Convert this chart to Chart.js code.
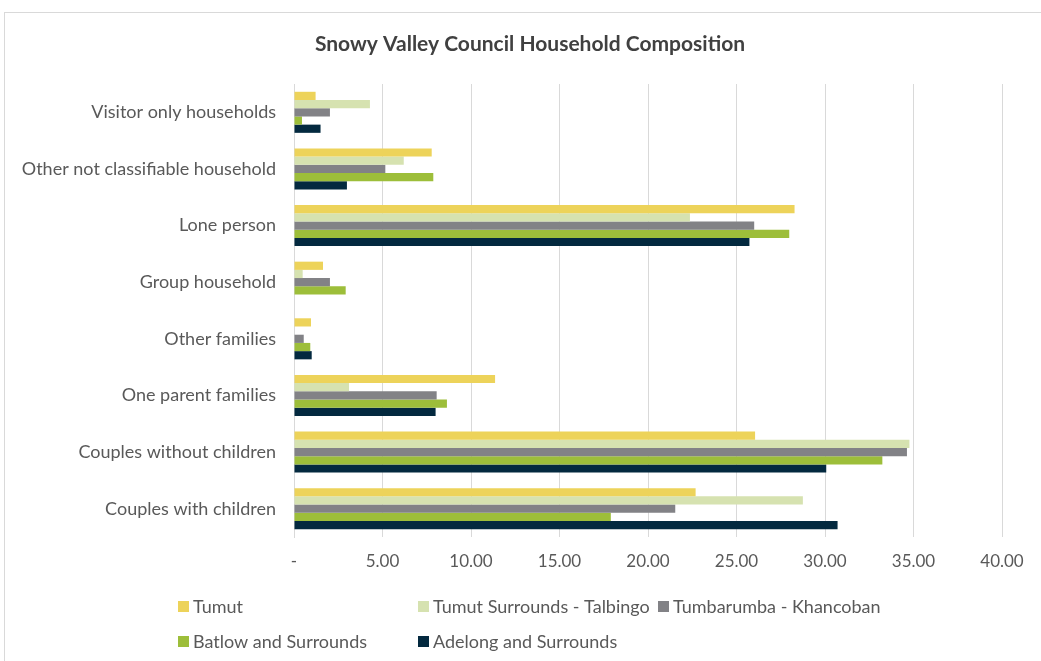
<!DOCTYPE html>
<html>
<head>
<meta charset="utf-8">
<script src="https://cdn.jsdelivr.net/npm/chart.js"></script>
<style>
  body { margin: 0; background: #fff; }
  #frame { position: absolute; left: 4px; top: 12px; width: 1100px; height: 700px; border: 1px solid #d9d9d9; }
  #householdChart { position: absolute; left: 0; top: 0; }
</style>
</head>
<body>
<div id="frame"></div>
<canvas id="householdChart" width="1041" height="661"></canvas>
<script>
// categories, top to bottom as shown
const categories = [
    'Visitor only households',
    'Other not classifiable household',
    'Lone person',
    'Group household',
    'Other families',
    'One parent families',
    'Couples without children',
    'Couples with children'
];

const tumut      = [1.22, 7.78, 28.28, 1.64, 0.96, 11.36, 26.05, 22.69];
const talbingo   = [4.29, 6.20, 22.37, 0.49, 0.00, 3.11, 34.77, 28.75];
const tumbarumba = [2.03, 5.16, 26.00, 2.03, 0.55, 8.06, 34.63, 21.54];
const batlow     = [0.45, 7.87, 27.98, 2.92, 0.92, 8.64, 33.24, 17.90];
const adelong    = [1.50, 2.99, 25.73, 0.00, 1.00, 8.00, 30.07, 30.71];

const xTickLabels = ['-', '5.00', '10.00', '15.00', '20.00', '25.00', '30.00', '35.00', '40.00'];

const chartTitle = 'Snowy Valley Council Household Composition';
const textColor = '#595959';
const font = 'Lato';

// legend laid out in columns like the original
const legendCols = [178, 418, 658];
const legendRows = [606, 641];

const titleAndLegend = {
    id: 'titleAndLegend',
    afterDraw(chart) {
        const ctx = chart.ctx;
        ctx.save();
        // title
        ctx.font = 'bold 21px ' + font;
        ctx.fillStyle = '#404040';
        ctx.textAlign = 'center';
        ctx.textBaseline = 'middle';
        ctx.fillText(chartTitle, 530, 44);
        // legend
        ctx.font = '18px ' + font;
        ctx.textAlign = 'left';
        chart.data.datasets.forEach((ds, i) => {
            const x = legendCols[i < 3 ? i : i - 3];
            const y = legendRows[i < 3 ? 0 : 1];
            ctx.fillStyle = ds.backgroundColor;
            ctx.fillRect(x, y - 5, 11, 11);
            ctx.fillStyle = textColor;
            ctx.fillText(ds.label, x + 15, y + 1);
        });
        ctx.restore();
    }
};

const ctx = document.getElementById('householdChart').getContext('2d');
new Chart(ctx, {
    type: 'bar',
    data: {
        labels: categories,
        datasets: [
            { label: 'Tumut', data: tumut, backgroundColor: '#edd35a' },
            { label: 'Tumut Surrounds - Talbingo', data: talbingo, backgroundColor: '#d6e2b0' },
            { label: 'Tumbarumba - Khancoban', data: tumbarumba, backgroundColor: '#828286' },
            { label: 'Batlow and Surrounds', data: batlow, backgroundColor: '#9dbe3a' },
            { label: 'Adelong and Surrounds', data: adelong, backgroundColor: '#03293f' }
        ]
    },
    options: {
        indexAxis: 'y',
        responsive: false,
        animation: false,
        devicePixelRatio: 1,
        layout: { padding: { left: 0, right: 39, top: 84, bottom: 84 } },
        datasets: {
            bar: { categoryPercentage: 0.725, barPercentage: 1.0 }
        },
        plugins: {
            legend: { display: false },
            tooltip: { enabled: false },
            title: { display: false }
        },
        scales: {
            x: {
                min: 0,
                max: 40,
                ticks: {
                    stepSize: 5,
                    color: textColor,
                    font: { family: font, size: 17 },
                    padding: 14,
                    callback: (v, i) => xTickLabels[i]
                },
                grid: { color: '#d9d9d9', drawTicks: false },
                border: { display: false },
                afterFit: s => { s.height = 40; }
            },
            y: {
                ticks: {
                    color: textColor,
                    font: { family: font, size: 18 },
                    padding: 18
                },
                grid: { display: false, drawTicks: false },
                border: { display: true, color: '#d9d9d9' },
                afterFit: s => { s.width = 294; }
            }
        }
    },
    plugins: [titleAndLegend]
});
</script>
</body>
</html>
